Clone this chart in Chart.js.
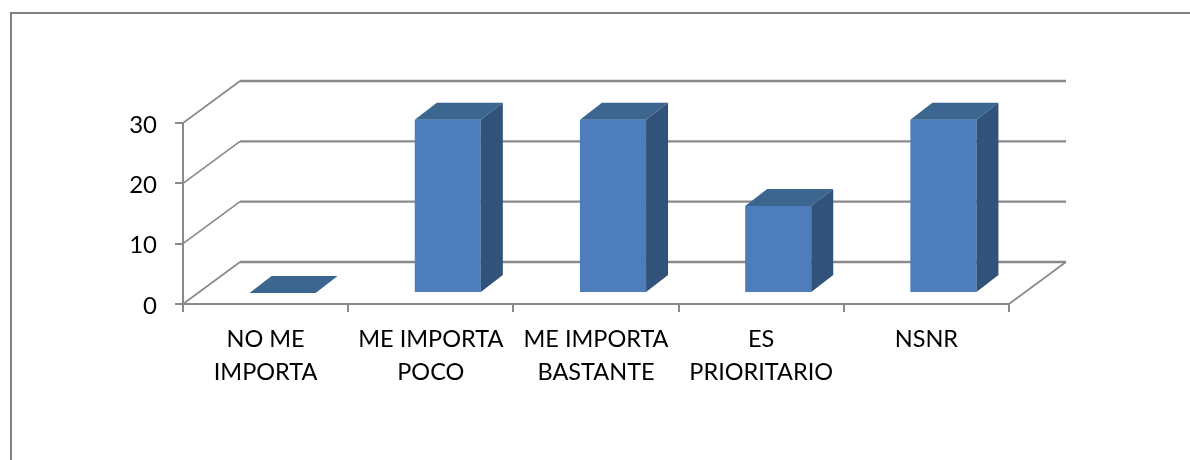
<!DOCTYPE html>
<html>
<head>
<meta charset="utf-8">
<script src="https://cdn.jsdelivr.net/npm/chart.js@4"></script>
<style>
    body { margin: 0; background: #fff; overflow: hidden; }
    #frame { position: absolute; left: 10px; top: 12px; right: 0; bottom: 0; border-left: 2px solid #808080; border-top: 2px solid #808080; }
    canvas { position: absolute; left: 0; top: 0; }
</style>
</head>
<body>
<div id="frame"></div>
<canvas id="myChart" width="1190" height="460"></canvas>
<script>
const categories = [['NO ME', 'IMPORTA'], ['ME IMPORTA', 'POCO'], ['ME IMPORTA', 'BASTANTE'], ['ES', 'PRIORITARIO'], ['NSNR']];
const values = [0, 28.7, 28.7, 14.4, 28.7];
const yTicks = [0, 10, 20, 30];

const gridColor = '#8a8a8a';
const wallDx = 57, wallDy = 42;   // depth of the floor
const barShiftX = 17, barShiftY = 11;   // bars stand in the middle of the floor
const barDx = 22, barDy = 17;   // depth of a bar

// back wall and floor, the library has no 3d bars so these go through the scales
const walls = {
    id: 'walls',
    beforeDatasetsDraw(chart) {
        const c = chart.ctx, y = chart.scales.y, area = chart.chartArea;
        c.save();
        c.strokeStyle = gridColor;
        yTicks.forEach(v => {
            const py = y.getPixelForValue(v);
            c.lineWidth = 1.7;
            c.beginPath();
            c.moveTo(area.left, py);
            c.lineTo(area.left + wallDx, py - wallDy);
            if (v === 0) {
                c.moveTo(area.right + wallDx, py - wallDy);
                c.lineTo(area.right, py);
            }
            c.stroke();
            c.lineWidth = 2.4;
            c.beginPath();
            c.moveTo(area.left + wallDx, py - wallDy);
            c.lineTo(area.right + wallDx, py - wallDy);
            c.stroke();
        });
        c.restore();
    }
};

const bars3d = {
    id: 'bars3d',
    beforeDatasetDraw(chart) {
        chart.ctx.save();
        chart.ctx.translate(barShiftX, -barShiftY);
    },
    afterDatasetDraw(chart, args) {
        const c = chart.ctx;
        args.meta.data.forEach(bar => {
            const l = bar.x - bar.width / 2, r = bar.x + bar.width / 2;
            // top
            c.fillStyle = '#3c6590';
            c.beginPath();
            c.moveTo(l, bar.y);
            c.lineTo(l + barDx, bar.y - barDy);
            c.lineTo(r + barDx, bar.y - barDy);
            c.lineTo(r, bar.y);
            c.closePath();
            c.fill();
            // side
            if (bar.base - bar.y > 0) {
                c.fillStyle = '#30527b';
                c.beginPath();
                c.moveTo(r, bar.y);
                c.lineTo(r + barDx, bar.y - barDy);
                c.lineTo(r + barDx, bar.base - barDy);
                c.lineTo(r, bar.base);
                c.closePath();
                c.fill();
            }
        });
        c.restore();
    }
};

new Chart(document.getElementById('myChart'), {
    type: 'bar',
    plugins: [walls, bars3d],
    data: {
        labels: categories,
        datasets: [{
            label: '',
            data: values,
            backgroundColor: '#4d7ebb',
            borderWidth: 0,
            barPercentage: 0.4,
            categoryPercentage: 1,
            clip: false
        }]
    },
    options: {
        responsive: false,
        animation: false,
        layout: { padding: { top: 123, right: 181, bottom: 0, left: 0 } },
        plugins: {
            legend: { display: false },
            title: { display: false },
            tooltip: { enabled: false }
        },
        scales: {
            x: {
                afterFit(s) { s.height = 156; },
                border: { color: gridColor, width: 2 },
                grid: { drawOnChartArea: false, color: gridColor, lineWidth: 2, tickLength: 8 },
                ticks: {
                    color: '#000',
                    maxRotation: 0,
                    padding: 11,
                    font: { family: 'Lato', size: 23.5, lineHeight: 1.4 }
                }
            },
            y: {
                min: 0,
                max: 30,
                afterFit(s) { s.width = 183; },
                afterBuildTicks(s) { s.ticks = yTicks.map(v => ({ value: v })); },
                border: { color: gridColor, width: 2 },
                grid: { drawOnChartArea: false, color: gridColor, lineWidth: 2, tickLength: 8 },
                ticks: {
                    color: '#000',
                    padding: 18,
                    labelOffset: 2,
                    font: { family: 'Lato', size: 24 }
                }
            }
        }
    }
});
</script>
</body>
</html>
